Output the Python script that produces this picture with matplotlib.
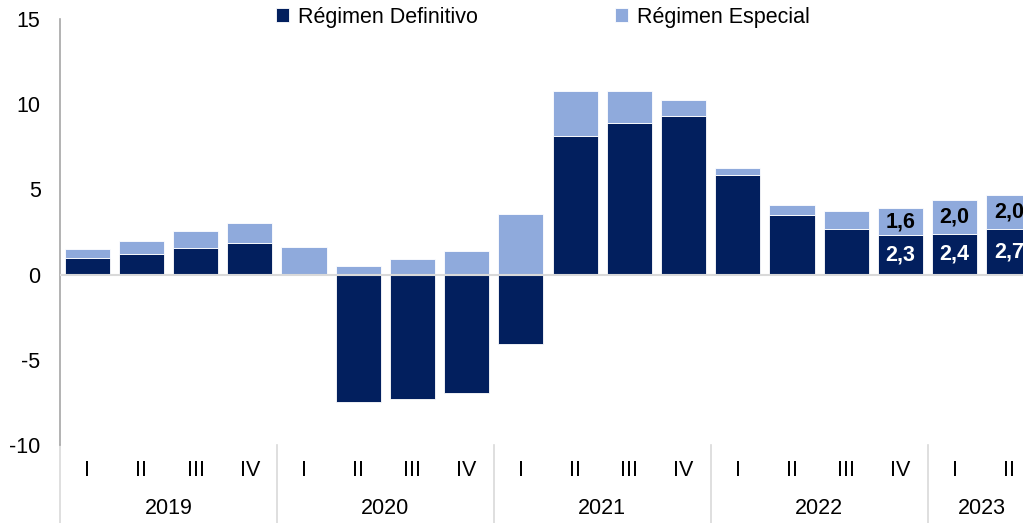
import matplotlib
matplotlib.use("Agg")
import matplotlib.pyplot as plt
import numpy as np

plt.rcParams['font.family'] = ['Liberation Sans', 'DejaVu Sans']

quarters = ["I", "II", "III", "IV"] * 4 + ["I", "II"]
years = ["2019", "2020", "2021", "2022", "2023"]
year_sizes = [4, 4, 4, 4, 2]
definitivo = [1.0, 1.2, 1.55, 1.85, 0.0, -7.5, -7.3, -6.95, -4.05,
              8.15, 8.9, 9.3, 5.85, 3.5, 2.7, 2.3, 2.4, 2.7]
especial = [0.5, 0.75, 1.0, 1.2, 1.6, 0.5, 0.9, 1.4, 3.55,
            2.65, 1.9, 0.95, 0.4, 0.6, 1.05, 1.6, 2.0, 2.0]
labeled = [15, 16, 17]

dark = "#021F5E"
light = "#8FAADC"
FS = 15.5

fig = plt.figure(figsize=(10.23, 5.23), dpi=100)
ax = fig.add_axes([60/1023, 1-445/523, 976/1023, 426/523])

x = np.arange(len(definitivo))
d = np.array(definitivo)
e = np.array(especial)
bottom_e = np.where(d > 0, d, 0)
ax.bar(x, d, width=0.83, color=dark, edgecolor="white", linewidth=0.6, label="Régimen Definitivo", zorder=2)
ax.bar(x, e, width=0.83, bottom=bottom_e, color=light, edgecolor="white", linewidth=0.6, label="Régimen Especial", zorder=2)

ax.axhline(0, color="#D9D9D9", lw=1.5, zorder=3)

for i in labeled:
    ax.text(x[i], d[i] / 2, f"{d[i]:.1f}".replace(".", ","), ha="center", va="center",
            color="white", fontsize=FS, fontweight="bold", zorder=4)
    ax.text(x[i], bottom_e[i] + e[i] / 2, f"{e[i]:.1f}".replace(".", ","), ha="center", va="center",
            color="black", fontsize=FS, fontweight="bold", zorder=4)

ax.set_xlim(-0.5, len(d) - 0.5)
ax.set_ylim(-10, 15)
ax.set_yticks([-10, -5, 0, 5, 10, 15])
ax.set_yticklabels(["-10", "-5", "0", "5", "10", "15"])
ax.tick_params(axis="y", length=0, pad=14, labelsize=FS)
ax.set_xticks([])
for s in ["top", "right", "bottom"]:
    ax.spines[s].set_visible(False)
ax.spines["left"].set_color("#A6A6A6")
ax.spines["left"].set_linewidth(1.2)

tr = ax.get_xaxis_transform()
for i, q in enumerate(quarters):
    ax.text(x[i], -0.0587, q, transform=tr, ha="center", va="center", fontsize=FS)

start = 0
bounds = [-0.5]
for yr, n in zip(years, year_sizes):
    center = start + (n - 1) / 2
    ax.text(center, -0.148, yr, transform=tr, ha="center", va="center", fontsize=FS)
    start += n
    bounds.append(start - 0.5)
for b in bounds:
    ax.plot([b, b], [0, -0.19], transform=tr, color="#D9D9D9", lw=1.2, clip_on=False)

fig.legend(loc="center", bbox_to_anchor=(543/1023, 1-17/523), ncol=2, frameon=False,
           fontsize=FS, handlelength=0.6, handleheight=0.6, columnspacing=6.4, handletextpad=0.4)

fig.savefig("out.png", dpi=100)
